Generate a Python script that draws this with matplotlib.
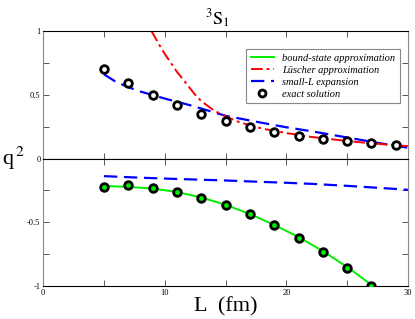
import matplotlib
matplotlib.use("Agg")
import matplotlib.pyplot as plt
from matplotlib.ticker import MultipleLocator

plt.rcParams['font.family'] = 'Liberation Serif'
plt.rcParams['mathtext.fontset'] = 'stix'

# exact solution (scattering state, upper panel; bound state, lower panel)
L_exact = [5, 7, 9, 11, 13, 15, 17, 19, 21, 23, 25, 27, 29]
q2_exact_top = [0.70, 0.59, 0.50, 0.42, 0.352, 0.294, 0.247, 0.207, 0.178, 0.155, 0.134, 0.121, 0.108]
L_exact_bot = [5, 7, 9, 11, 13, 15, 17, 19, 21, 23, 25, 27]
q2_exact_bot = [-0.22, -0.21, -0.23, -0.265, -0.31, -0.366, -0.436, -0.52, -0.62, -0.73, -0.855, -0.995]

# bound-state approximation
L_bound = [5, 7, 9, 11, 13, 15, 17, 19, 21, 23, 25, 27]
q2_bound = [-0.215, -0.222, -0.235, -0.262, -0.305, -0.362, -0.435, -0.52, -0.615, -0.725, -0.85, -0.99]

# Luscher approximation
L_lus = [8.9, 9.5, 10, 10.5, 11, 11.5, 12, 12.5, 13, 14, 15, 16, 17, 18, 20, 22, 24, 26, 28, 30]
q2_lus = [1.0, 0.90, 0.82, 0.75, 0.68, 0.62, 0.56, 0.50, 0.45, 0.38, 0.33, 0.29, 0.26, 0.235, 0.20, 0.17, 0.148, 0.128, 0.112, 0.097]

# small-L expansion
L_small = [5, 6, 7, 8, 10, 12, 15, 18, 20, 22, 25, 28, 30]
q2_small_top = [0.66, 0.60, 0.56, 0.525, 0.47, 0.42, 0.335, 0.28, 0.245, 0.215, 0.165, 0.115, 0.085]
q2_small_bot = [-0.138, -0.142, -0.146, -0.150, -0.157, -0.163, -0.172, -0.183, -0.19, -0.198, -0.214, -0.232, -0.245]

fig, (ax1, ax2) = plt.subplots(2, 1, sharex=True, figsize=(4.15, 3.19), dpi=100)
fig.subplots_adjust(left=0.104, right=0.983, top=0.903, bottom=0.103, hspace=0)

for ax in (ax1, ax2):
    ax.plot(L_small, q2_small_top if ax is ax1 else q2_small_bot, color='#0000ff',
            ls=(0, (6, 3)), lw=1.6, label='small-L expansion', zorder=2)
    ax.set_xlim(0, 30)
    ax.xaxis.set_major_locator(MultipleLocator(10))
    ax.xaxis.set_minor_locator(MultipleLocator(5))
    ax.yaxis.set_major_locator(MultipleLocator(0.5))
    ax.yaxis.set_minor_locator(MultipleLocator(0.25))
    ax.tick_params(which='both', direction='in', top=True, right=True, labelsize=6,
                   length=4, width=0.7, color='#555555', pad=2)
    for side in ('left', 'right'):
        ax.spines[side].set_color('#888888')
    for side in ('top', 'bottom'):
        ax.spines[side].set_color('black')

ax1.plot(L_lus, q2_lus, color='#ff0000', ls=(0, (6, 2, 1.5, 2)), lw=1.4, zorder=2)
ax1.plot(L_exact, q2_exact_top, 'o', ms=5.5, mfc='white', mec='black', mew=2, zorder=3)
ax1.set_ylim(0, 1)
ax1.set_yticks([0, 0.5, 1])
ax1.set_yticklabels(['0', '0.5', '1'])

ax2.plot(L_bound, q2_bound, color='#00ee00', lw=1.4, zorder=2)
ax2.plot(L_exact_bot, q2_exact_bot, 'o', ms=5.5, mfc='#00ee00', mec='black', mew=2, zorder=3)
ax2.set_ylim(-1, 0)
ax2.set_yticks([-1, -0.5])
ax2.set_yticklabels(['-1', '-0.5'])
ax2.set_xticks([0, 10, 20, 30])
ax2.set_xlabel('L  (fm)', fontsize=16, labelpad=0)

# legend
h_b, = ax1.plot([], [], color='#00ee00', lw=1.4)
h_l, = ax1.plot([], [], color='#ff0000', ls=(0, (6, 2, 1.5, 2)), lw=1.4)
h_s, = ax1.plot([], [], color='#0000ff', ls=(0, (6, 3)), lw=1.6)
h_e, = ax1.plot([], [], 'o', ms=5, mfc='white', mec='black', mew=2)
leg = ax1.legend([h_b, h_l, h_s, h_e],
                 ['bound-state approximation', 'Lüscher approximation', 'small-L expansion', 'exact solution'],
                 loc='upper right', bbox_to_anchor=(0.978, 0.858), borderaxespad=0, fancybox=False,
                 prop={'family': 'Liberation Serif', 'style': 'italic', 'size': 7.5},
                 handlelength=2.2, handletextpad=0.8, borderpad=0.45, labelspacing=0.25,
                 framealpha=1, edgecolor='#888888')
leg.get_frame().set_linewidth(0.8)

fig.text(0.523, 0.94, r'$^{3}\mathrm{S}_{1}$', fontsize=13, ha='center', va='center')
fig.text(0.005, 0.505, r'q$^{\,2}$', fontsize=16, ha='left', va='center')

fig.savefig('out.png', dpi=100)
